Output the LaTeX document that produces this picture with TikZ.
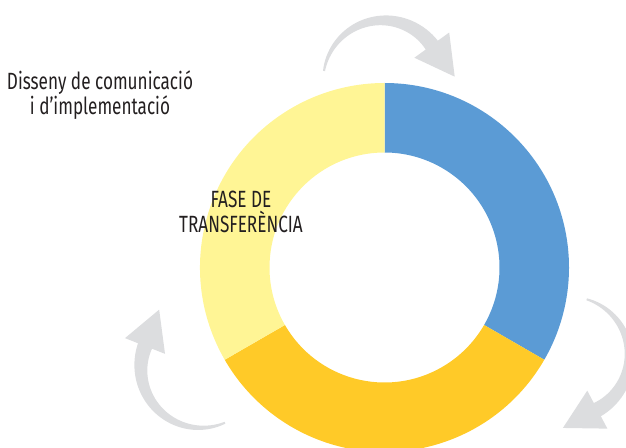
\documentclass[tikz,border=0pt]{standalone}
\usepackage{fontspec}
\setmainfont[FakeStretch=0.73]{Fira Sans}
\usepackage{xcolor}
\definecolor{ringblue}{HTML}{5B9BD5}
\definecolor{ringgold}{HTML}{FFCA28}
\definecolor{ringyellow}{HTML}{FFF595}
\definecolor{arrowgray}{HTML}{DCDDDF}
\definecolor{textdark}{HTML}{231F20}
\newcommand{\ringpart}[3] {
    \fill[#1] ([shift={(#2:184.5)}]ringc) arc[start angle=#2, end angle=#3, radius=184.5pt]
        -- ([shift={(#3:115)}]ringc) arc[start angle=#3, end angle=#2, radius=115pt] -- cycle;
}
\newcommand{\cyclearrow}[2] {
    \begin{scope}[shift={(#1)}, rotate=#2, shift={(59.4,-8.35)}]
        \fill[arrowgray] plot[domain=172:37, samples=40]
                ({(61+6.5*(172-\x)/135)*cos(\x)}, {(61+6.5*(172-\x)/135)*sin(\x)})
            -- (65.1,49.0) -- (71.4,4.95) -- (30.7,23.2)
            -- plot[domain=37:172, samples=40]
                ({(59-6.5*(172-\x)/135)*cos(\x)}, {(59-6.5*(172-\x)/135)*sin(\x)})
            -- cycle;
    \end{scope}
}
\tikzset{
    phase/.style={font=\fontsize{23.5}{25.5}\selectfont, text=textdark, align=center, inner sep=0pt},
}

\begin{document}
\begin{tikzpicture}[x=1pt, y=1pt]
        \useasboundingbox (0,0) rectangle (626,447);
        \clip (0,0) rectangle (626,447);
        \coordinate (ringc) at (384.5,179.5);
        % ring, three phases
        \ringpart{ringblue}{90}{-30}
        \ringpart{ringgold}{-30}{-150}
        \ringpart{ringyellow}{210}{90}
        % arrows round the ring
        \cyclearrow{324,376}{-1}
        \cyclearrow{586.7,147.7}{-99}
        \cyclearrow{225,24.3}{121.7}
        \node[phase] (disseny) at (100,352) {Disseny de comunicació\\i d’implementació};
        \node[phase] (transfer) at (241,235) {FASE DE\\TRANSFERÈNCIA};
    \end{tikzpicture}
\end{document}
